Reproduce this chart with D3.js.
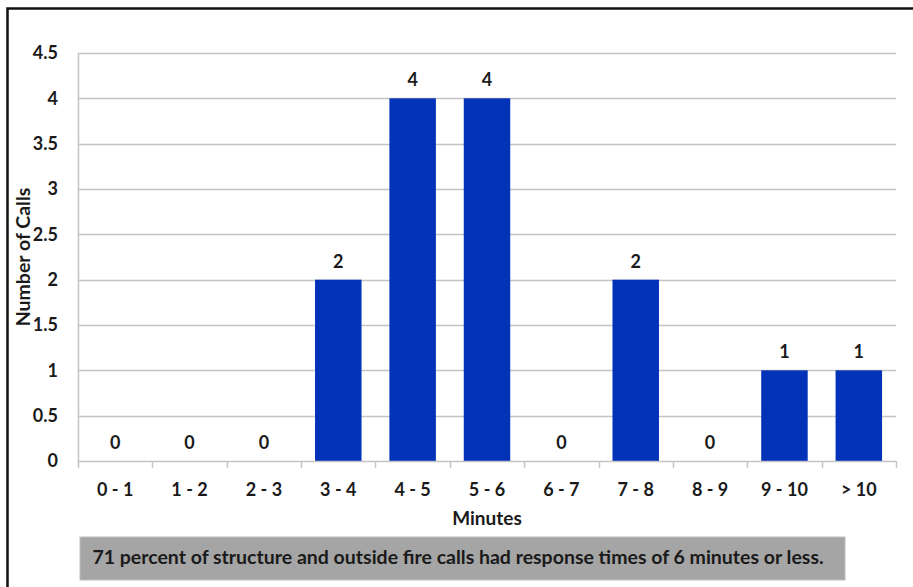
<!DOCTYPE html>
<html>
<head>
<meta charset="utf-8">
<script src="https://cdn.jsdelivr.net/npm/d3@7"></script>
<style>
  html, body { margin: 0; padding: 0; background: #fff; }
  svg { display: block; font-family: Lato, "Open Sans", sans-serif; }
</style>
</head>
<body>
<svg id="chart" width="913" height="587"></svg>
<script>
// Response time buckets (minutes) and number of calls in each
const categories = ["0 - 1", "1 - 2", "2 - 3", "3 - 4", "4 - 5", "5 - 6", "6 - 7", "7 - 8", "8 - 9", "9 - 10", "> 10"];
const calls = [0, 0, 0, 2, 4, 4, 0, 2, 0, 1, 1];
const yTicks = [0, 0.5, 1, 1.5, 2, 2.5, 3, 3.5, 4, 4.5];
const yTickLabels = ["0", "0.5", "1", "1.5", "2", "2.5", "3", "3.5", "4", "4.5"];
const note = "71 percent of structure and outside fire calls had response times of 6 minutes or less.";

const svg = d3.select("#chart");
const plot = { left: 78, right: 896, top: 53, bottom: 461 };
const ink = "#1a1a1a";

// outer frame
svg.append("rect")
  .attr("x", 7.5).attr("y", 8.5)
  .attr("width", 920).attr("height", 600)
  .attr("fill", "none").attr("stroke", "#111").attr("stroke-width", 2.5);

const x = d3.scaleBand()
  .domain(categories)
  .range([plot.left, plot.right])
  .paddingInner(0.375).paddingOuter(0.1875);

const xEdge = d3.scaleLinear().domain([0, categories.length]).range([plot.left, plot.right]);

const y = d3.scaleLinear().domain([0, 4.5]).range([plot.bottom, plot.top]);

// horizontal gridlines
svg.append("g")
  .selectAll("line")
  .data(yTicks.filter(d => d > 0))
  .join("line")
  .attr("x1", plot.left).attr("x2", plot.right)
  .attr("y1", d => Math.round(y(d)) + 0.5).attr("y2", d => Math.round(y(d)) + 0.5)
  .attr("stroke", "#c4c4c4").attr("stroke-width", 1.5);

// y axis line
svg.append("line")
  .attr("x1", plot.left + 0.5).attr("x2", plot.left + 0.5)
  .attr("y1", plot.top).attr("y2", plot.bottom)
  .attr("stroke", "#c4c4c4").attr("stroke-width", 1.5);

// y tick labels
const yAxis = d3.axisLeft(y).tickValues(yTicks)
  .tickFormat((d, i) => yTickLabels[i]).tickSize(0).tickPadding(20);
const gy = svg.append("g").attr("transform", `translate(${plot.left},0)`).call(yAxis);
gy.select(".domain").remove();
gy.selectAll("text")
  .attr("font-family", "Lato, sans-serif")
  .attr("font-size", 18).attr("font-weight", "bold").attr("fill", ink);

// bars
svg.append("g")
  .selectAll("rect")
  .data(calls)
  .join("rect")
  .attr("x", (d, i) => x(categories[i]))
  .attr("width", x.bandwidth())
  .attr("y", d => y(d))
  .attr("height", d => y(0) - y(d))
  .attr("fill", "#0232b8");

// x axis line with boundary ticks
svg.append("line")
  .attr("x1", plot.left).attr("x2", plot.right)
  .attr("y1", plot.bottom + 0.5).attr("y2", plot.bottom + 0.5)
  .attr("stroke", "#c4c4c4").attr("stroke-width", 1.5);
svg.append("g")
  .selectAll("line")
  .data(d3.range(categories.length + 1))
  .join("line")
  .attr("x1", d => Math.round(xEdge(d)) + 0.5).attr("x2", d => Math.round(xEdge(d)) + 0.5)
  .attr("y1", plot.bottom).attr("y2", plot.bottom + 7)
  .attr("stroke", "#c4c4c4").attr("stroke-width", 1.5);

// x category labels
svg.append("g")
  .selectAll("text")
  .data(categories)
  .join("text")
  .attr("x", d => x(d) + x.bandwidth() / 2)
  .attr("y", 496)
  .attr("text-anchor", "middle")
  .attr("font-size", 18).attr("font-weight", "bold").attr("fill", ink)
  .text(d => d);

// value labels above bars
svg.append("g")
  .selectAll("text")
  .data(calls)
  .join("text")
  .attr("x", (d, i) => x(categories[i]) + x.bandwidth() / 2)
  .attr("y", d => y(d) - 12)
  .attr("text-anchor", "middle")
  .attr("font-size", 18).attr("font-weight", "bold").attr("fill", ink)
  .text(d => d);

// axis titles
svg.append("text")
  .attr("x", 487).attr("y", 525)
  .attr("text-anchor", "middle")
  .attr("font-size", 19).attr("font-weight", "bold").attr("fill", ink)
  .text("Minutes");

svg.append("text")
  .attr("transform", "translate(30,257) rotate(-90)")
  .attr("text-anchor", "middle")
  .attr("font-size", 19.5).attr("font-weight", "bold").attr("fill", ink)
  .text("Number of Calls");

// note box
svg.append("rect")
  .attr("x", 80).attr("y", 537).attr("width", 765).attr("height", 43)
  .attr("fill", "#a5a5a5").attr("stroke", "#bdbdbd").attr("stroke-width", 1);
svg.append("text")
  .attr("x", 458).attr("y", 564)
  .attr("text-anchor", "middle")
  .attr("font-size", 19.5).attr("font-weight", "bold").attr("fill", ink)
  .text(note);
</script>
</body>
</html>
